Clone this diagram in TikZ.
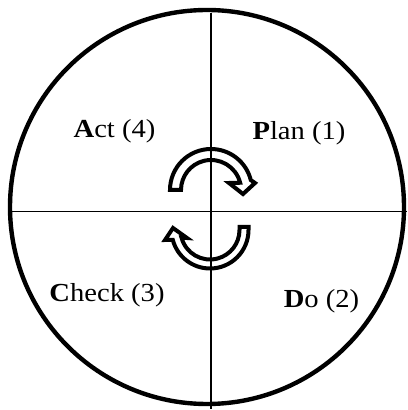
\documentclass[tikz,border=0pt]{standalone}
\usepackage{fontspec}
\setmainfont{Liberation Serif}[FakeStretch=1.1]
\begin{document}
\begin{tikzpicture}[
  x=0.75pt, y=0.75pt,
  rim/.style={line width=3.3pt},
  divider/.style={line width=1.1pt},
  turn/.style={line width=3pt, line join=miter},
  phase/.style={anchor=base, inner sep=0pt, font=\fontsize{19.5}{22}\selectfont},
]
\useasboundingbox (0,0) rectangle (407,410);
% wheel
\coordinate (hub) at (207,203);
\draw[rim] (hub) circle[radius=197];
\coordinate (ntop) at (211,397);
\coordinate (nbot) at (211,1);
\coordinate (wleft) at (10,198.5);
\coordinate (wright) at (407,198.5);
\draw[divider] (ntop) -- (nbot);
\draw[divider] (wleft) -- (wright);
% upper turning arrow
\coordinate (upc) at (211,220);
\draw[turn] ([shift={(-41,0)}]upc) arc[start angle=180, end angle=14, radius=41]
  -- ([shift={(44,7)}]upc) -- ([shift={(32,-4)}]upc) -- ([shift={(18,7)}]upc)
  -- ([shift={(14:30)}]upc) arc[start angle=14, end angle=180, radius=30] -- cycle;
% lower turning arrow
\coordinate (loc) at (210,180);
\draw[turn] ([shift={(38.5,3)}]loc) -- ([shift={(38.5,0)}]loc)
  arc[start angle=0, end angle=-165, radius=38.5]
  -- ([shift={(-45,-10)}]loc) -- ([shift={(-37,2)}]loc) -- ([shift={(-23,-8)}]loc)
  -- ([shift={(-165:29.5)}]loc) arc[start angle=-165, end angle=0, radius=29.5]
  -- ([shift={(29.5,3)}]loc) -- cycle;
% phases
\node[phase] (plan) at (299,270) {\textbf{P}lan (1)};
\node[phase] (act) at (114.5,272) {\textbf{A}ct (4)};
\node[phase] (check) at (107,108) {\textbf{C}heck (3)};
\node[phase] (do) at (321.5,102) {\textbf{D}o (2)};
\end{tikzpicture}
\end{document}
